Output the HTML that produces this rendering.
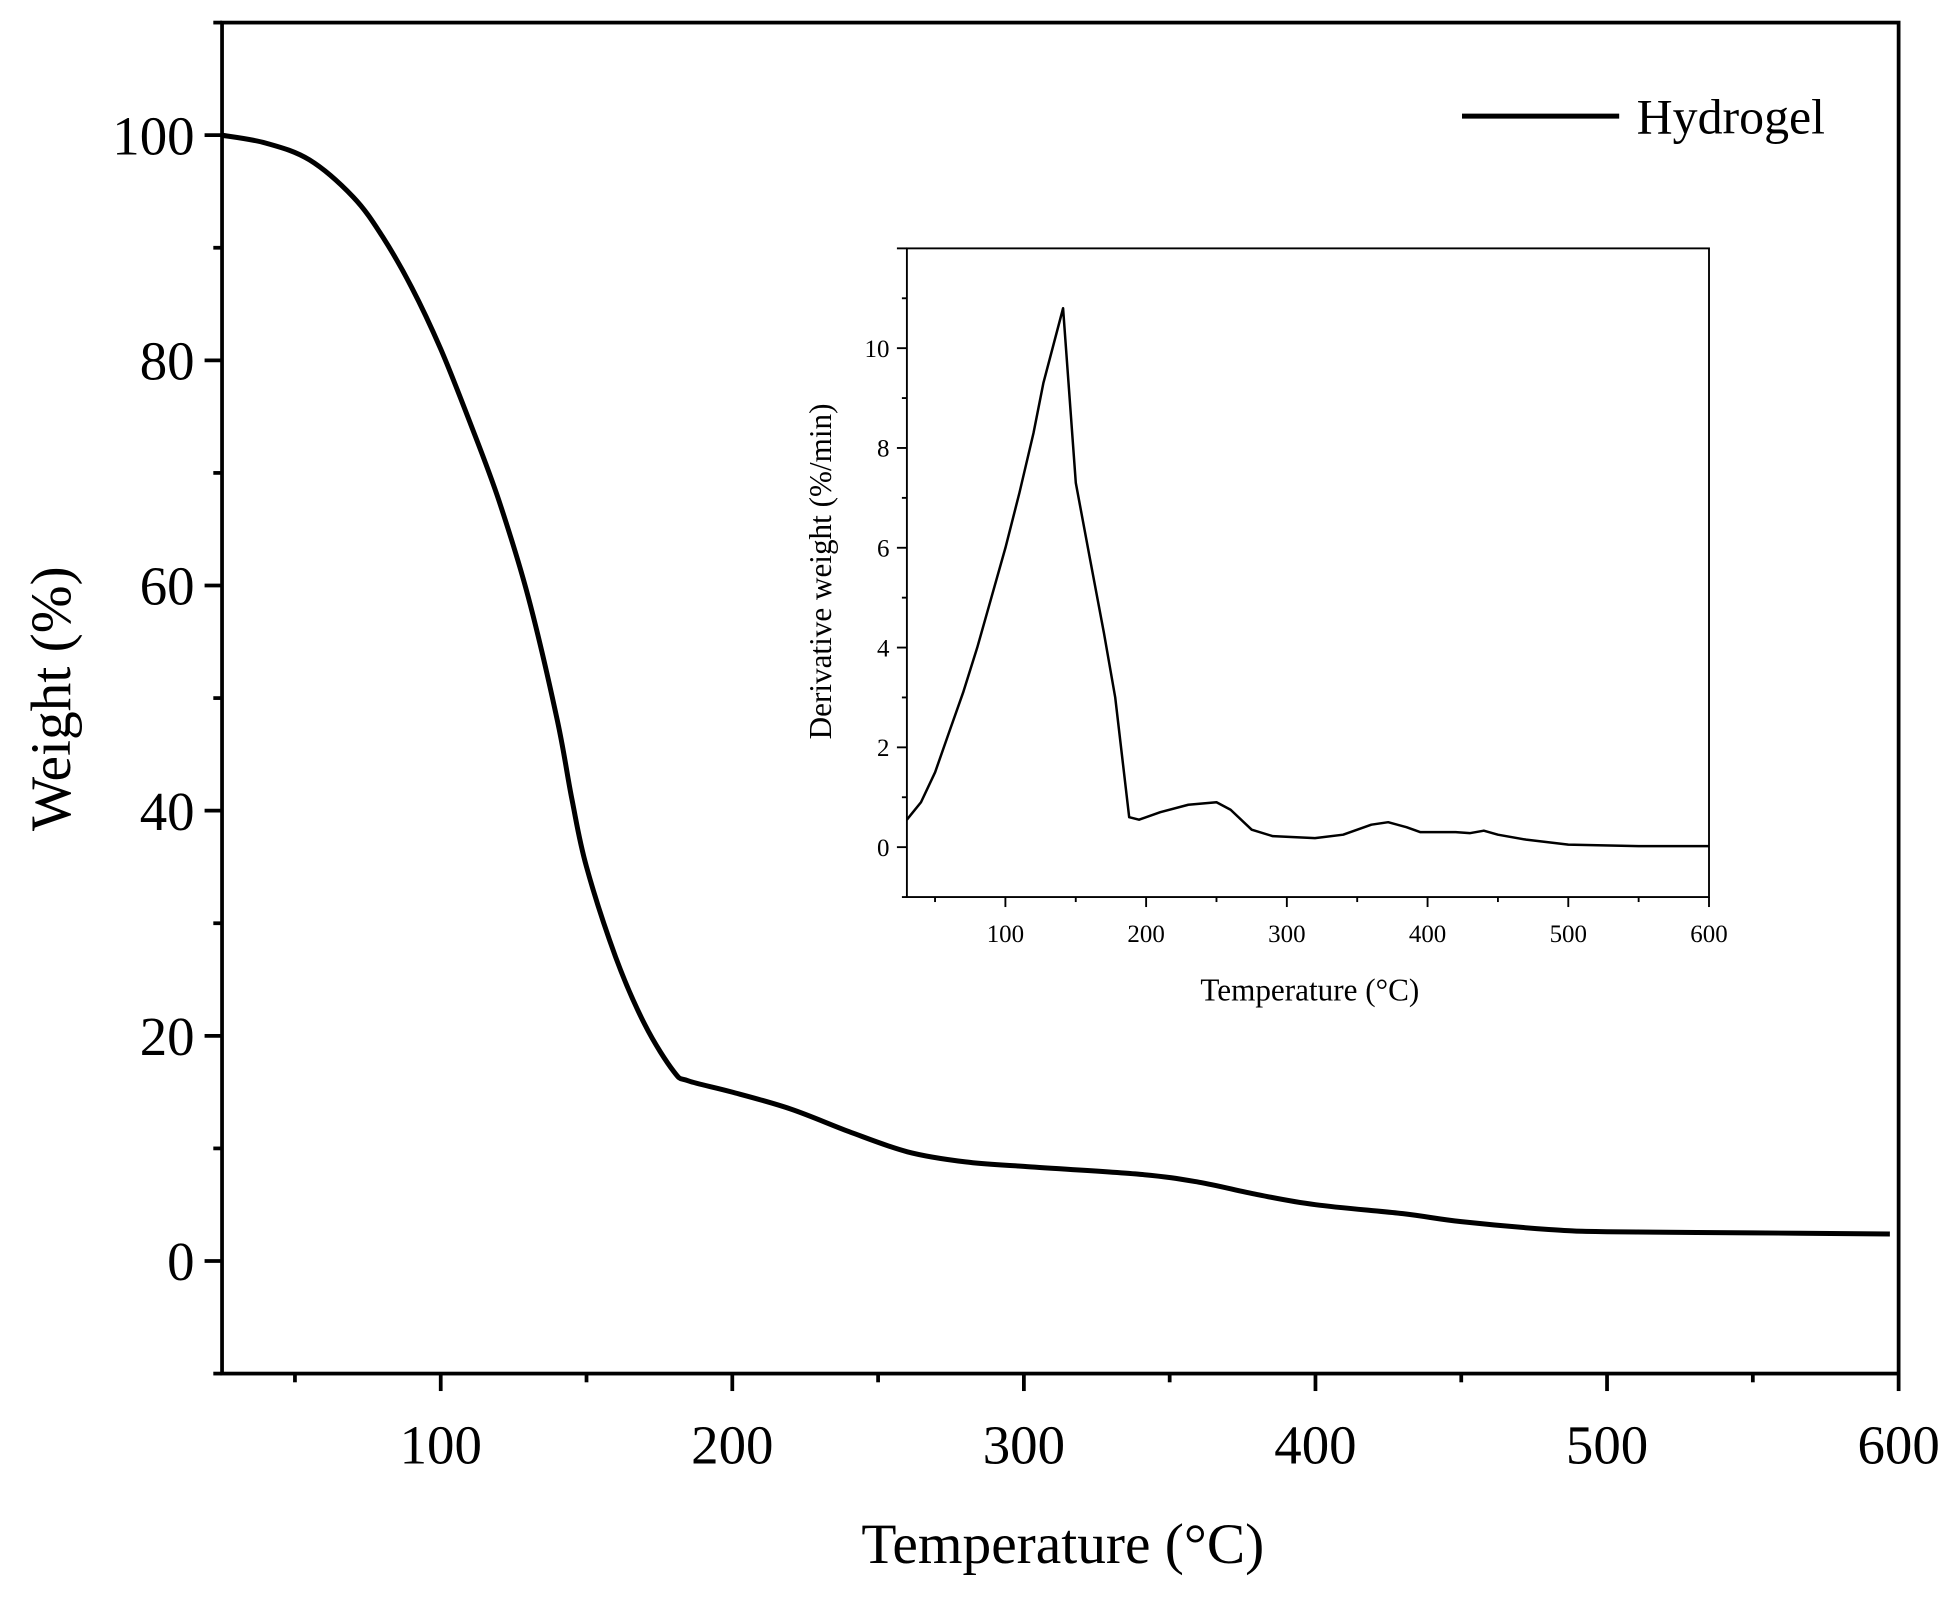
<!DOCTYPE html>
<html><head><meta charset="utf-8"><style>
html,body{margin:0;padding:0;background:#fff;}
svg{display:block;}
text{font-family:"Liberation Serif",serif;fill:#000;}
</style></head><body>
<svg id="chart" width="1956" height="1597" viewBox="0 0 1568 1280" xmlns="http://www.w3.org/2000/svg"></svg>
<script>
const mainT=[25,40,55,70,80,90,100,110,120,130,140,145,150,160,170,180,185,200,220,240,260,280,300,340,360,380,400,430,450,480,500,550,597];
const mainW=[100,99.3,97.8,94.5,91,86.5,81,74.5,67.5,59,48,41,35,27,21,16.8,16,15,13.5,11.5,9.7,8.8,8.4,7.7,7,5.9,5,4.2,3.5,2.8,2.6,2.5,2.4];
const mainXTicks=[100,200,300,400,500,600];
const mainYTicks=[0,20,40,60,80,100];
const insetT=[30,40,50,60,70,80,90,100,110,120,127,141,150,160,170,178,188,195,210,230,250,260,275,290,320,340,360,372,385,395,420,430,440,450,470,500,550,600];
const insetD=[0.55,0.9,1.5,2.3,3.1,4.0,5.0,6.0,7.1,8.3,9.3,10.8,7.3,5.8,4.3,3.0,0.6,0.55,0.7,0.85,0.9,0.75,0.35,0.22,0.18,0.25,0.45,0.5,0.4,0.3,0.3,0.28,0.33,0.25,0.15,0.05,0.02,0.02];
const insetXTicks=[100,200,300,400,500,600];
const insetYTicks=[0,2,4,6,8,10];

const svg=document.getElementById('chart');
const NS='http://www.w3.org/2000/svg';
function mk(tag,attrs,parent){const e=document.createElementNS(NS,tag);for(const k in attrs)e.setAttribute(k,attrs[k]);(parent||svg).appendChild(e);return e;}
function txt(s,attrs,parent){const e=mk('text',attrs,parent);e.textContent=s;return e;}

function drawPlot(cfg){
  const g=mk('g',{});
  
  
  const sx=v=>cfg.L+(v-cfg.x0)/(cfg.x1-cfg.x0)*(cfg.R-cfg.L);
  const sy=v=>cfg.B-(v-cfg.y0)/(cfg.y1-cfg.y0)*(cfg.B-cfg.T);
  const frame=mk('rect',{x:cfg.L,y:cfg.T,width:cfg.R-cfg.L,height:cfg.B-cfg.T,fill:'none',stroke:'#000','stroke-width':cfg.aw},g);
  
  
  const xstep=cfg.xTicks[1]-cfg.xTicks[0];
  for(let v=Math.ceil(cfg.x0/(xstep/2))*(xstep/2);v<=cfg.x1+0.01;v+=xstep/2){
    const major=Math.abs(v/xstep-Math.round(v/xstep))<1e-6;
    const t=mk('line',{x1:sx(v),x2:sx(v),y1:cfg.B,y2:cfg.B+(major?cfg.tl:cfg.tl/2),stroke:'#000','stroke-width':cfg.tw},g);
    
    
  }
  cfg.xTicks.forEach(v=>{
    const t=txt(String(v),{x:sx(v),y:cfg.B+cfg.xlOff,'text-anchor':'middle','font-size':cfg.fs},g);
    
    
  });
  const ystep=cfg.yTicks[1]-cfg.yTicks[0];
  for(let v=Math.ceil(cfg.y0/(ystep/2))*(ystep/2);v<=cfg.y1+0.01;v+=ystep/2){
    const major=Math.abs(v/ystep-Math.round(v/ystep))<1e-6;
    const t=mk('line',{x1:cfg.L,x2:cfg.L-(major?cfg.tl:cfg.tl/2),y1:sy(v),y2:sy(v),stroke:'#000','stroke-width':cfg.tw},g);
    
    
  }
  cfg.yTicks.forEach(v=>{
    const t=txt(String(v),{x:cfg.L-cfg.ylOff,y:sy(v)+cfg.fs*0.35,'text-anchor':'end','font-size':cfg.fs},g);
    
    
  });
  const P=cfg.xs.map((x,i)=>[sx(x),sy(cfg.ys[i])]);
  let d='M'+P[0][0].toFixed(1)+','+P[0][1].toFixed(1);
  for(let i=1;i<P.length;i++){
    if(cfg.smooth){
      const p0=P[Math.max(0,i-2)],p1=P[i-1],p2=P[i],p3=P[Math.min(P.length-1,i+1)];
      const c1=[p1[0]+(p2[0]-p0[0])/6,p1[1]+(p2[1]-p0[1])/6];
      const c2=[p2[0]-(p3[0]-p1[0])/6,p2[1]-(p3[1]-p1[1])/6];
      d+='C'+c1[0].toFixed(1)+','+c1[1].toFixed(1)+' '+c2[0].toFixed(1)+','+c2[1].toFixed(1)+' '+p2[0].toFixed(1)+','+p2[1].toFixed(1);
    } else d+='L'+P[i][0].toFixed(1)+','+P[i][1].toFixed(1);
  }
  const p=mk('path',{d:d,fill:'none',stroke:'#000','stroke-width':cfg.lw,'stroke-linejoin':'round'},g);
  
  
  const xt=txt('Temperature (°C)',{x:cfg.xtX,y:cfg.xtY,'text-anchor':'middle','font-size':cfg.tfs},g);
  
  
  const yt=txt(cfg.ytitle,{x:0,y:0,'text-anchor':'middle','font-size':cfg.tfs,transform:`translate(${cfg.ytX},${cfg.ytY}) rotate(-90)`},g);
  
  
}

drawPlot({name:'main-plot',L:178,R:1522,T:18,B:1101,x0:25,x1:600,y0:-10,y1:110,
  xTicks:mainXTicks,yTicks:mainYTicks,xs:mainT,ys:mainW,aw:3,tw:3,tl:14,lw:4,fs:44,tfs:46,smooth:true,
  xlOff:72,ylOff:22,xtX:852,xtY:1253,ytitle:'Weight (%)',ytX:56,ytY:560});

const lg=mk('g',{});


const ll=mk('line',{x1:1172,x2:1298,y1:93,y2:93,stroke:'#000','stroke-width':4},lg);


const lt=txt('Hydrogel',{x:1312,y:107,'font-size':40},lg);



drawPlot({name:'inset-plot',L:727,R:1370,T:199,B:719,x0:30,x1:600,y0:-1,y1:12,
  xTicks:insetXTicks,yTicks:insetYTicks,xs:insetT,ys:insetD,aw:1.5,tw:1.5,tl:8,lw:2,fs:20,tfs:25,smooth:false,
  xlOff:36,ylOff:14,xtX:1050,xtY:802,ytitle:'Derivative weight (%/min)',ytX:666,ytY:458});
</script>
</body></html>
